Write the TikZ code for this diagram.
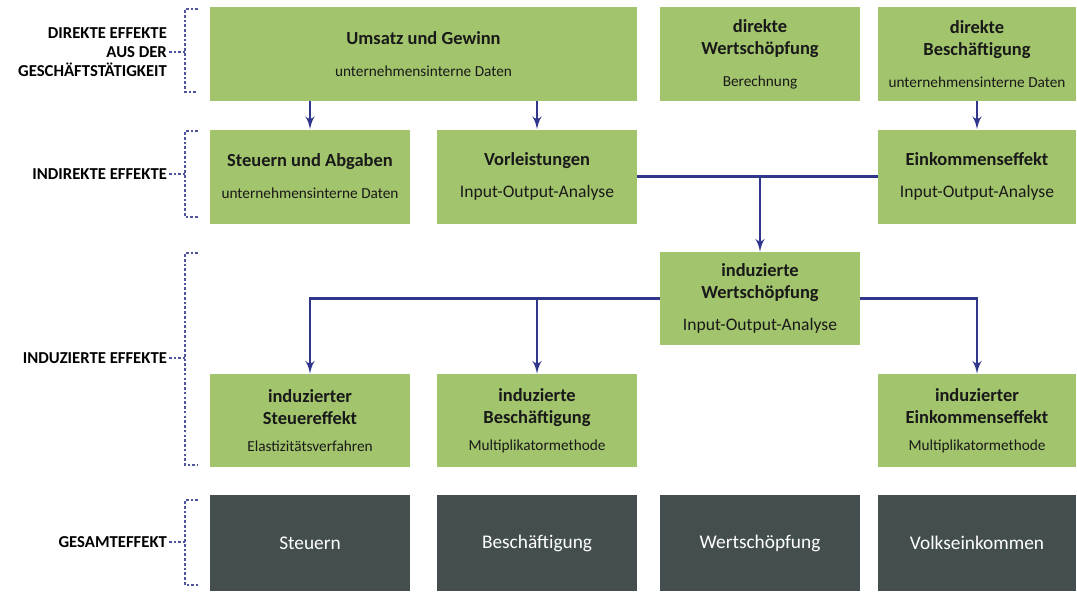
\documentclass[tikz,border=0pt]{standalone}
\usepackage{fontspec}
\setmainfont{Carlito}
\usetikzlibrary{arrows}
\definecolor{boxgreen}{RGB}{162,196,108}
\definecolor{boxdark}{RGB}{68,78,79}
\definecolor{linkblue}{RGB}{48,54,140}
\definecolor{braceblue}{RGB}{80,84,160}
\tikzset{
  block/.style={
    rectangle,
    fill=boxgreen,
    text=black!90,
    minimum width=4cm,
    minimum height=1.88cm,
    inner sep=2pt,
    align=center,
    execute at begin node=\setlength{\baselineskip}{12.5pt}
  },
  total/.style={
    rectangle,
    fill=boxdark,
    text=white,
    minimum width=4cm,
    minimum height=1.92cm,
    font=\fontsize{11}{13}\selectfont
  },
  level/.style={
    anchor=east,
    align=right,
    inner sep=1pt,
    font=\fontsize{9.5}{11}\selectfont\bfseries,
    execute at begin node=\setlength{\baselineskip}{11pt}
  },
  brace/.style={
    draw=braceblue,
    line width=0.9pt,
    dash pattern=on 1.5pt off 1.2pt
  }
}
\tikzstyle{arrow} = [->, > = latex', draw=linkblue, line width=1.5pt]
\tikzstyle{link} = [draw=linkblue, line width=1.5pt]
\def\titel#1{{\fontsize{10.5}{12.5}\selectfont\bfseries #1}}
\def\methode#1{{\fontsize{8.7}{10}\selectfont #1}}
\def\ioa#1{{\fontsize{10}{12}\selectfont #1}}

\begin{document}
\begin{tikzpicture}
    \useasboundingbox (0,0) rectangle (21.54,11.82);
    \node[block, minimum width=8.54cm] (umsatz) at (8.47, 10.74) {\titel{Umsatz und Gewinn}\\[5.7pt]\methode{unternehmensinterne Daten}};
    \node[block] (dws) at (15.2, 10.74) {\titel{direkte}\\\titel{Wertschöpfung}\\[5.7pt]\methode{Berechnung}};
    \node[block, minimum width=3.96cm] (dbs) at (19.54, 10.74) {\titel{direkte}\\\titel{Beschäftigung}\\[5.7pt]\methode{unternehmensinterne Daten}};
    \node[block] (steuern) at (6.2, 8.29) {\titel{Steuern und Abgaben}\\[5.7pt]\methode{unternehmensinterne Daten}};
    \node[block] (vorl) at (10.74, 8.29) {\titel{Vorleistungen}\\[5.7pt]\ioa{Input-Output-Analyse}};
    \node[block, minimum width=3.96cm] (eink) at (19.54, 8.29) {\titel{Einkommenseffekt}\\[5.7pt]\ioa{Input-Output-Analyse}};
    \node[block, minimum height=1.86cm] (iws) at (15.2, 5.85) {\titel{induzierte}\\\titel{Wertschöpfung}\\[5.7pt]\ioa{Input-Output-Analyse}};
    \node[block, minimum height=1.86cm] (isteuer) at (6.2, 3.41) {\titel{induzierter}\\\titel{Steuereffekt}\\[3pt]\methode{Elastizitätsverfahren}};
    \node[block, minimum height=1.86cm] (ibes) at (10.74, 3.41) {\titel{induzierte}\\\titel{Beschäftigung}\\[3pt]\methode{Multiplikatormethode}};
    \node[block, minimum height=1.86cm, minimum width=3.96cm] (ieink) at (19.54, 3.41) {\titel{induzierter}\\\titel{Einkommenseffekt}\\[3pt]\methode{Multiplikatormethode}};
    \node[total] (gsteuern) at (6.2, 0.96) {Steuern};
    \node[total] (gbes) at (10.74, 0.96) {Beschäftigung};
    \node[total] (gws) at (15.2, 0.96) {Wertschöpfung};
    \node[total, minimum width=3.96cm] (geink) at (19.54, 0.96) {Volkseinkommen};
    \draw[arrow] (steuern.north |- umsatz.south) -- (steuern.north);
    \draw[arrow] (vorl.north |- umsatz.south) -- (vorl.north);
    \draw[arrow] (dbs) -- (eink);
    \draw[link] (vorl.east) -- (eink.west);
    \draw[arrow] (iws.north |- vorl.east) -- (iws.north);
    \draw[arrow] (iws.west) -| (isteuer.north);
    \draw[arrow] (ibes.north |- iws.west) -- (ibes.north);
    \draw[arrow] (iws.east) -| (ieink.north);
    \node[level] (ldirekt) at (3.38, 10.78) {DIREKTE EFFEKTE\\AUS DER\\GESCHÄFTSTÄTIGKEIT};
    \node[level] (lindirekt) at (3.38, 8.34) {INDIREKTE EFFEKTE};
    \node[level] (linduziert) at (3.38, 4.66) {INDUZIERTE EFFEKTE};
    \node[level] (lgesamt) at (3.38, 0.98) {GESAMTEFFEKT};
    \coordinate (bdirekt) at (3.7, 10.78);
    \coordinate (bindirekt) at (3.7, 8.34);
    \coordinate (binduziert) at (3.7, 4.66);
    \coordinate (bgesamt) at (3.7, 0.98);
    \draw[brace] (3.96, 11.64) -- (3.7, 11.64) -- (3.7, 9.98) -- (3.96, 9.98);
    \draw[brace] (3.96, 9.2) -- (3.7, 9.2) -- (3.7, 7.48) -- (3.96, 7.48);
    \draw[brace] (3.96, 6.76) -- (3.7, 6.76) -- (3.7, 2.52) -- (3.96, 2.52);
    \draw[brace] (3.96, 1.82) -- (3.7, 1.82) -- (3.7, 0.12) -- (3.96, 0.12);
    \draw[brace] (ldirekt) -- (bdirekt);
    \draw[brace] (lindirekt) -- (bindirekt);
    \draw[brace] (linduziert) -- (binduziert);
    \draw[brace] (lgesamt) -- (bgesamt);
\end{tikzpicture}
\end{document}
